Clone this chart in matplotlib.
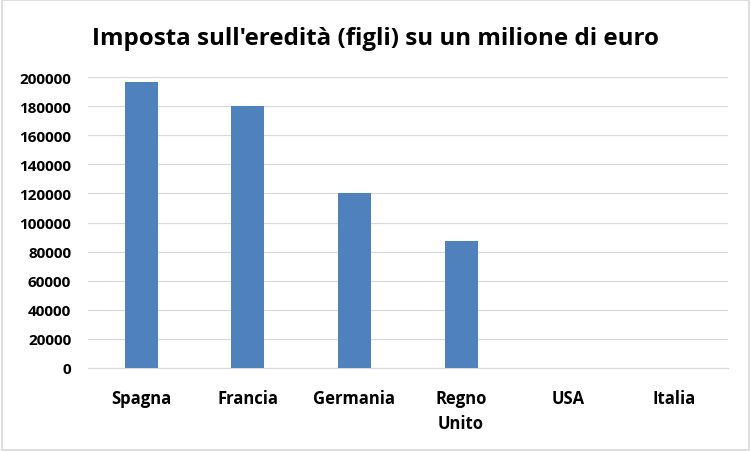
import matplotlib.pyplot as plt
import numpy as np

categories = ["Spagna", "Francia", "Germania", "Regno\nUnito", "USA", "Italia"]
values = [197000, 180000, 120000, 87300, 0, 0]
yticks = list(range(0, 200001, 20000))

plt.rcParams["font.family"] = ["Open Sans", "DejaVu Sans"]

fig = plt.figure(figsize=(7.51, 4.52), dpi=100)
ax = fig.add_axes([0.117, 0.184, 0.852, 0.643])

x = np.arange(len(categories))
ax.bar(x, values, width=0.31, color="#4f81bd", zorder=3)

ax.set_xlim(-0.5, len(categories) - 0.5)
ax.set_ylim(0, 200000)
ax.set_yticks(yticks)
ax.set_yticklabels([str(t) for t in yticks], fontsize=11, fontweight="bold")
ax.set_xticks(x)
ax.set_xticklabels(categories, fontsize=12, fontweight="bold", linespacing=1.5)
ax.tick_params(length=0)
ax.tick_params(axis="x", pad=15)
ax.tick_params(axis="y", pad=12)
ax.yaxis.grid(True, color="#d9d9d9", linewidth=0.9, zorder=0)
for s in ["top", "right", "left"]:
    ax.spines[s].set_visible(False)
ax.spines["bottom"].set_color("#d9d9d9")

fig.text(0.5, 0.913, "Imposta sull'eredità (figli) su un milione di euro",
         ha="center", va="center", fontsize=17.4, fontweight="bold")

border = plt.Rectangle((0.002, 0.002), 0.996, 0.996, transform=fig.transFigure,
                       fill=False, edgecolor="#d9d9d9", linewidth=1.2)
fig.patches.append(border)

fig.savefig("out.png", dpi=100)
